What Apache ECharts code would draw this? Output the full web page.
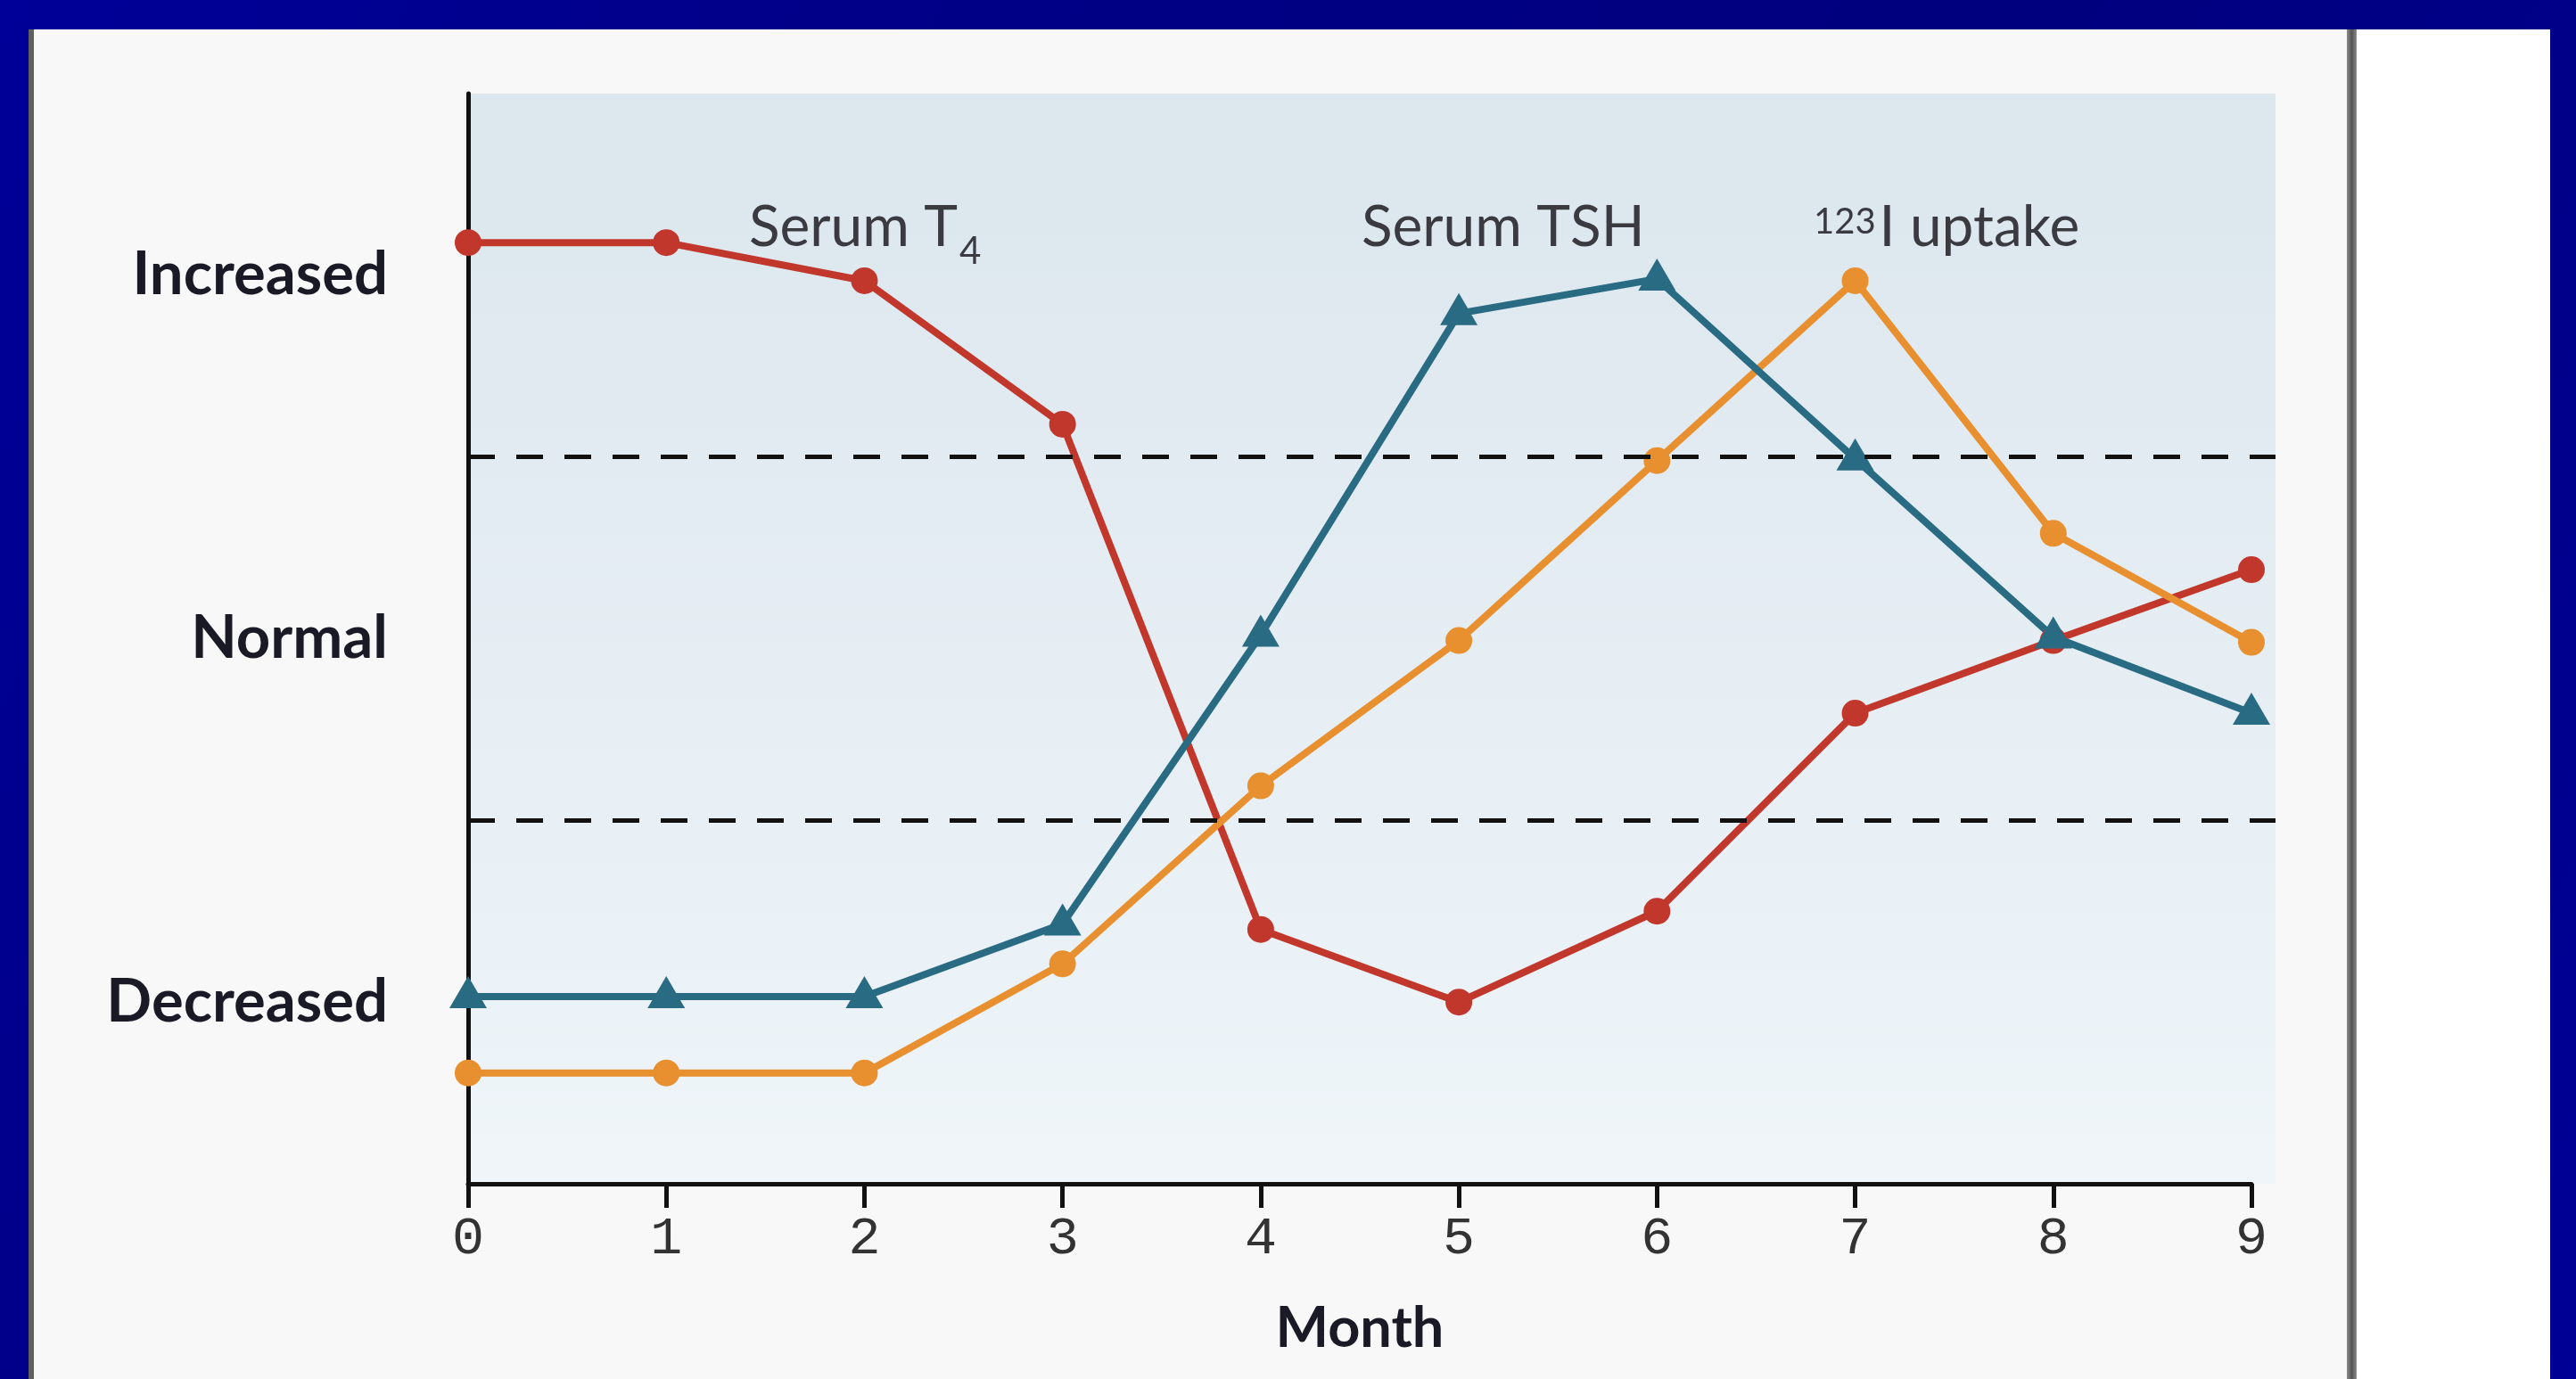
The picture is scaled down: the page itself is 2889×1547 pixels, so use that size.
<!DOCTYPE html>
<html lang="en">
<head>
    <meta charset="UTF-8">
    <title>Thyroid tests by month</title>
    <style>
        html, body {
            margin: 0;
            padding: 0;
            width: 2889px;
            height: 1547px;
            overflow: hidden;
            background: linear-gradient(120deg, #000098 0%, #000086 30%, #00007e 60%, #000096 100%);
        }
        .box { position: absolute; }
        #panel { left: 38px; top: 33px; width: 2594px; height: 1514px; background: #f8f8f8; }
        #lline { left: 32px; top: 33px; width: 6px; height: 1514px; background: #606060; }
        #rline { left: 2632px; top: 33px; width: 11px; height: 1514px; background: linear-gradient(90deg, #8a8a8a, #555 50%, #8a8a8a); }
        #white { left: 2643px; top: 33px; width: 217px; height: 1514px; background: #ffffff; }
        #main { position: absolute; left: 0; top: 0; width: 2889px; height: 1547px; }
    </style>
</head>
<body>
<div class="box" id="panel"></div>
<div class="box" id="lline"></div>
<div class="box" id="rline"></div>
<div class="box" id="white"></div>
<div id="main"></div>
<script src="https://cdn.jsdelivr.net/npm/echarts@6/dist/echarts.min.js"></script>
<script>
    var months = ['0', '1', '2', '3', '4', '5', '6', '7', '8', '9'];
    // y scale: 1 = Decreased, 3 = Normal, 5 = Increased, normal range 2..4
    var levelNames = {1: 'Decreased', 3: 'Normal', 5: 'Increased'};
    var normalRange = [2, 4];

    var serumT4 = [5.18, 5.18, 4.97, 4.18, 1.40, 1.00, 1.50, 2.59, 2.99, 3.38];
    var serumTSH = [1.03, 1.03, 1.03, 1.43, 3.02, 4.79, 4.98, 3.99, 3.01, 2.59];
    var iodineUptake = [0.61, 0.61, 0.61, 1.21, 2.19, 2.99, 3.98, 4.97, 3.58, 2.98];

    var myChart = echarts.init(document.getElementById('main'), null, {renderer: 'canvas'});

    var font = 'Lato, "Noto Sans", sans-serif';

    var option = {
        backgroundColor: 'transparent',
        animation: false,
        grid: [
            {
                // shaded plot area, a bit wider than the month axis
                left: 525, right: 337, top: 105, bottom: 219,
                show: true,
                borderWidth: 0,
                outerBoundsMode: 'none',
                backgroundColor: {
                    type: 'linear', x: 0, y: 0, x2: 0, y2: 1,
                    colorStops: [
                        {offset: 0, color: '#dbe6ed'},
                        {offset: 1, color: '#eff5f9'}
                    ]
                }
            },
            {
                left: 525, right: 364, top: 105, bottom: 219,
                outerBoundsMode: 'none'
            }
        ],
        xAxis: [
            {
                gridIndex: 0, type: 'value', min: 0, max: 1, show: false
            },
            {
                gridIndex: 1,
                type: 'category',
                data: months,
                boundaryGap: false,
                axisLine: {lineStyle: {color: '#111', width: 5}},
                axisTick: {show: true, length: 27, lineStyle: {color: '#111', width: 5}},
                axisLabel: {
                    margin: 32,
                    fontFamily: '"Liberation Mono", monospace',
                    fontSize: 60,
                    color: '#333'
                },
                splitLine: {show: false},
                name: 'Month',
                nameLocation: 'middle',
                nameGap: 131,
                nameTextStyle: {fontFamily: font, fontWeight: 'bold', fontSize: 63, color: '#1a1a26'}
            }
        ],
        yAxis: [
            {
                gridIndex: 0, type: 'value', min: 0, max: 6, show: false
            },
            {
                gridIndex: 1,
                type: 'value',
                min: 0,
                max: 6,
                interval: 1,
                axisLine: {show: true, lineStyle: {color: '#111', width: 5}},
                axisTick: {show: false},
                splitLine: {show: false},
                axisLabel: {
                    margin: 90,
                    fontFamily: font,
                    fontWeight: 'bold',
                    fontSize: 67,
                    color: '#1a1a26',
                    formatter: function (v) {
                        return levelNames[v] || '';
                    }
                }
            }
        ],
        series: [
            {
                name: 'normal range',
                type: 'line',
                xAxisIndex: 0,
                yAxisIndex: 0,
                data: [],
                silent: true,
                markLine: {
                    silent: true,
                    symbol: 'none',
                    label: {show: false},
                    lineStyle: {color: '#111', width: 5, type: [30, 24]},
                    data: [{yAxis: normalRange[0]}, {yAxis: normalRange[1]}]
                }
            },
            {
                name: 'Serum T4',
                type: 'line',
                xAxisIndex: 1,
                yAxisIndex: 1,
                data: serumT4,
                symbol: 'circle',
                symbolSize: 30,
                lineStyle: {color: '#c2372c', width: 8},
                itemStyle: {color: '#c2372c'}
            },
            {
                name: '123I uptake',
                type: 'line',
                xAxisIndex: 1,
                yAxisIndex: 1,
                data: iodineUptake,
                symbol: 'circle',
                symbolSize: 30,
                lineStyle: {color: '#e8902f', width: 8},
                itemStyle: {color: '#e8902f'}
            },
            {
                name: 'Serum TSH',
                type: 'line',
                xAxisIndex: 1,
                yAxisIndex: 1,
                data: serumTSH,
                symbol: 'triangle',
                symbolSize: [42, 36],
                symbolOffset: [0, -5],
                lineStyle: {color: '#2a6b84', width: 8},
                itemStyle: {color: '#2a6b84'}
            }
        ],
        graphic: [
            {
                type: 'text',
                left: 840, top: 223,
                style: {
                    text: '{a|Serum T}{b|4}',
                    rich: {
                        a: {fontFamily: font, fontSize: 64, lineHeight: 64, verticalAlign: 'top', fill: '#3a3a40'},
                        b: {fontFamily: font, fontSize: 42, lineHeight: 42, padding: [38, 0, 0, 2], verticalAlign: 'top', fill: '#3a3a40'}
                    }
                }
            },
            {
                type: 'text',
                left: 1527, top: 223,
                style: {
                    text: 'Serum TSH',
                    fontFamily: font, fontSize: 64, fill: '#3a3a40'
                }
            },
            {
                type: 'text',
                left: 2034, top: 223,
                style: {
                    text: '{s|123}{a|I uptake}',
                    rich: {
                        s: {fontFamily: font, fontSize: 40, lineHeight: 40, verticalAlign: 'top', fill: '#3a3a40', padding: [6, 4, 0, 0]},
                        a: {fontFamily: font, fontSize: 64, lineHeight: 64, verticalAlign: 'top', fill: '#3a3a40'}
                    }
                }
            }
        ]
    };

    myChart.setOption(option);
</script>
</body>
</html>
